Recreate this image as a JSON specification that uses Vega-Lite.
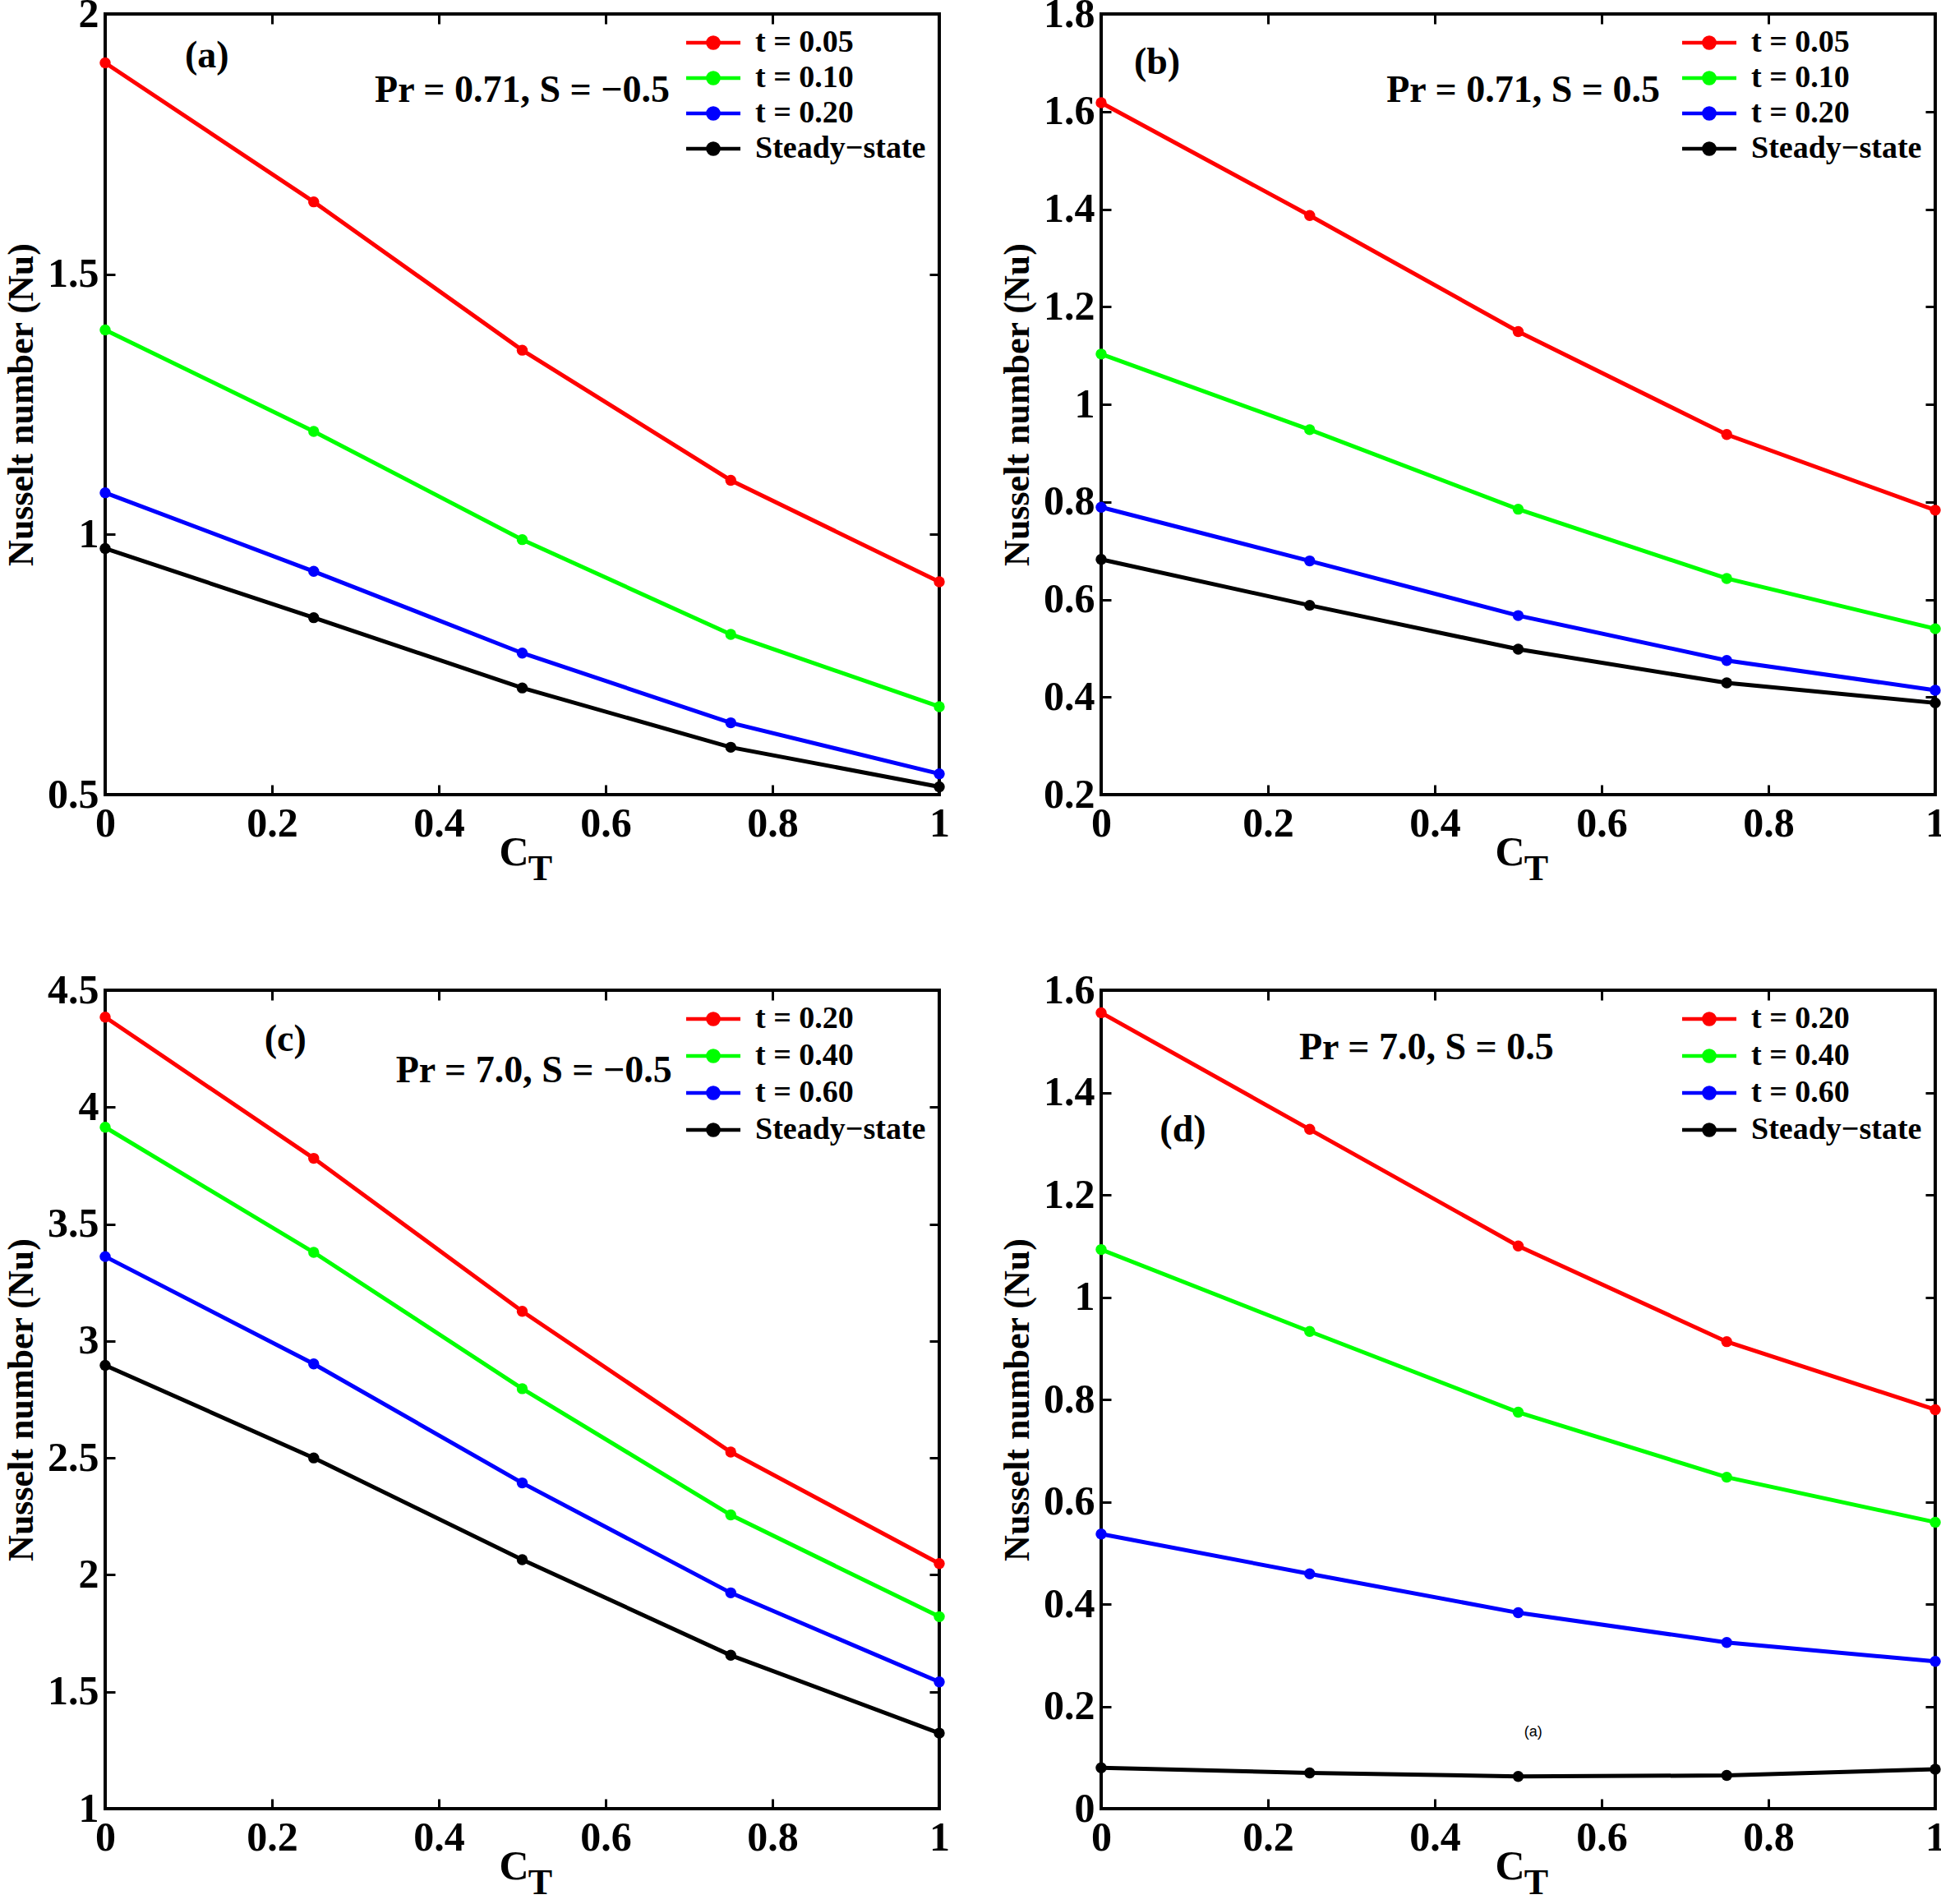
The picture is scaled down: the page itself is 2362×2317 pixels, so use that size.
{
  "$schema": "https://vega.github.io/schema/vega-lite/v6.json",
  "autosize": {"type": "pad"},
  "padding": {"left": 2, "top": -10, "right": 0, "bottom": 0},
  "background": "white",
  "bounds": "flush",
  "columns": 2,
  "spacing": {"row": 238, "column": 197},
  "resolve": {"scale": {"color": "independent", "x": "independent", "y": "independent"}, "legend": {"color": "independent"}},
  "datasets": {
    "series": [
      {"panel": "a", "series": "t = 0.05", "x": 0, "nu": 1.906},
      {"panel": "a", "series": "t = 0.05", "x": 0.25, "nu": 1.639},
      {"panel": "a", "series": "t = 0.05", "x": 0.5, "nu": 1.354},
      {"panel": "a", "series": "t = 0.05", "x": 0.75, "nu": 1.104},
      {"panel": "a", "series": "t = 0.05", "x": 1, "nu": 0.909},
      {"panel": "a", "series": "t = 0.10", "x": 0, "nu": 1.393},
      {"panel": "a", "series": "t = 0.10", "x": 0.25, "nu": 1.198},
      {"panel": "a", "series": "t = 0.10", "x": 0.5, "nu": 0.99},
      {"panel": "a", "series": "t = 0.10", "x": 0.75, "nu": 0.808},
      {"panel": "a", "series": "t = 0.10", "x": 1, "nu": 0.669},
      {"panel": "a", "series": "t = 0.20", "x": 0, "nu": 1.08},
      {"panel": "a", "series": "t = 0.20", "x": 0.25, "nu": 0.929},
      {"panel": "a", "series": "t = 0.20", "x": 0.5, "nu": 0.772},
      {"panel": "a", "series": "t = 0.20", "x": 0.75, "nu": 0.638},
      {"panel": "a", "series": "t = 0.20", "x": 1, "nu": 0.54},
      {"panel": "a", "series": "Steady−state", "x": 0, "nu": 0.973},
      {"panel": "a", "series": "Steady−state", "x": 0.25, "nu": 0.84},
      {"panel": "a", "series": "Steady−state", "x": 0.5, "nu": 0.705},
      {"panel": "a", "series": "Steady−state", "x": 0.75, "nu": 0.591},
      {"panel": "a", "series": "Steady−state", "x": 1, "nu": 0.515},
      {"panel": "b", "series": "t = 0.05", "x": 0, "nu": 1.618},
      {"panel": "b", "series": "t = 0.05", "x": 0.25, "nu": 1.387},
      {"panel": "b", "series": "t = 0.05", "x": 0.5, "nu": 1.149},
      {"panel": "b", "series": "t = 0.05", "x": 0.75, "nu": 0.938},
      {"panel": "b", "series": "t = 0.05", "x": 1, "nu": 0.783},
      {"panel": "b", "series": "t = 0.10", "x": 0, "nu": 1.103},
      {"panel": "b", "series": "t = 0.10", "x": 0.25, "nu": 0.948},
      {"panel": "b", "series": "t = 0.10", "x": 0.5, "nu": 0.785},
      {"panel": "b", "series": "t = 0.10", "x": 0.75, "nu": 0.643},
      {"panel": "b", "series": "t = 0.10", "x": 1, "nu": 0.54},
      {"panel": "b", "series": "t = 0.20", "x": 0, "nu": 0.789},
      {"panel": "b", "series": "t = 0.20", "x": 0.25, "nu": 0.679},
      {"panel": "b", "series": "t = 0.20", "x": 0.5, "nu": 0.567},
      {"panel": "b", "series": "t = 0.20", "x": 0.75, "nu": 0.475},
      {"panel": "b", "series": "t = 0.20", "x": 1, "nu": 0.414},
      {"panel": "b", "series": "Steady−state", "x": 0, "nu": 0.682},
      {"panel": "b", "series": "Steady−state", "x": 0.25, "nu": 0.588},
      {"panel": "b", "series": "Steady−state", "x": 0.5, "nu": 0.498},
      {"panel": "b", "series": "Steady−state", "x": 0.75, "nu": 0.429},
      {"panel": "b", "series": "Steady−state", "x": 1, "nu": 0.388},
      {"panel": "c", "series": "t = 0.20", "x": 0, "nu": 4.385},
      {"panel": "c", "series": "t = 0.20", "x": 0.25, "nu": 3.781},
      {"panel": "c", "series": "t = 0.20", "x": 0.5, "nu": 3.127},
      {"panel": "c", "series": "t = 0.20", "x": 0.75, "nu": 2.525},
      {"panel": "c", "series": "t = 0.20", "x": 1, "nu": 2.048},
      {"panel": "c", "series": "t = 0.40", "x": 0, "nu": 3.914},
      {"panel": "c", "series": "t = 0.40", "x": 0.25, "nu": 3.379},
      {"panel": "c", "series": "t = 0.40", "x": 0.5, "nu": 2.796},
      {"panel": "c", "series": "t = 0.40", "x": 0.75, "nu": 2.256},
      {"panel": "c", "series": "t = 0.40", "x": 1, "nu": 1.821},
      {"panel": "c", "series": "t = 0.60", "x": 0, "nu": 3.361},
      {"panel": "c", "series": "t = 0.60", "x": 0.25, "nu": 2.902},
      {"panel": "c", "series": "t = 0.60", "x": 0.5, "nu": 2.393},
      {"panel": "c", "series": "t = 0.60", "x": 0.75, "nu": 1.923},
      {"panel": "c", "series": "t = 0.60", "x": 1, "nu": 1.542},
      {"panel": "c", "series": "Steady−state", "x": 0, "nu": 2.896},
      {"panel": "c", "series": "Steady−state", "x": 0.25, "nu": 2.5},
      {"panel": "c", "series": "Steady−state", "x": 0.5, "nu": 2.065},
      {"panel": "c", "series": "Steady−state", "x": 0.75, "nu": 1.656},
      {"panel": "c", "series": "Steady−state", "x": 1, "nu": 1.323},
      {"panel": "d", "series": "t = 0.20", "x": 0, "nu": 1.556},
      {"panel": "d", "series": "t = 0.20", "x": 0.25, "nu": 1.328},
      {"panel": "d", "series": "t = 0.20", "x": 0.5, "nu": 1.1},
      {"panel": "d", "series": "t = 0.20", "x": 0.75, "nu": 0.913},
      {"panel": "d", "series": "t = 0.20", "x": 1, "nu": 0.78},
      {"panel": "d", "series": "t = 0.40", "x": 0, "nu": 1.093},
      {"panel": "d", "series": "t = 0.40", "x": 0.25, "nu": 0.933},
      {"panel": "d", "series": "t = 0.40", "x": 0.5, "nu": 0.775},
      {"panel": "d", "series": "t = 0.40", "x": 0.75, "nu": 0.648},
      {"panel": "d", "series": "t = 0.40", "x": 1, "nu": 0.56},
      {"panel": "d", "series": "t = 0.60", "x": 0, "nu": 0.537},
      {"panel": "d", "series": "t = 0.60", "x": 0.25, "nu": 0.459},
      {"panel": "d", "series": "t = 0.60", "x": 0.5, "nu": 0.383},
      {"panel": "d", "series": "t = 0.60", "x": 0.75, "nu": 0.325},
      {"panel": "d", "series": "t = 0.60", "x": 1, "nu": 0.288},
      {"panel": "d", "series": "Steady−state", "x": 0, "nu": 0.08},
      {"panel": "d", "series": "Steady−state", "x": 0.25, "nu": 0.07},
      {"panel": "d", "series": "Steady−state", "x": 0.5, "nu": 0.063},
      {"panel": "d", "series": "Steady−state", "x": 0.75, "nu": 0.065},
      {"panel": "d", "series": "Steady−state", "x": 1, "nu": 0.077}
    ],
    "notes": [
      {"panel": "a", "kind": "note", "label": "(a)", "x": 0.122, "y": 1.92},
      {"panel": "a", "kind": "note", "label": "Pr = 0.71, S = −0.5", "x": 0.5, "y": 1.853},
      {"panel": "a", "kind": "sub", "label": "T", "x": 0.5, "y": 0.5},
      {"panel": "b", "kind": "note", "label": "(b)", "x": 0.067, "y": 1.70},
      {"panel": "b", "kind": "note", "label": "Pr = 0.71, S = 0.5", "x": 0.506, "y": 1.643},
      {"panel": "b", "kind": "sub", "label": "T", "x": 0.5, "y": 0.2},
      {"panel": "c", "kind": "note", "label": "(c)", "x": 0.216, "y": 4.29},
      {"panel": "c", "kind": "note", "label": "Pr = 7.0, S = −0.5", "x": 0.514, "y": 4.155},
      {"panel": "c", "kind": "sub", "label": "T", "x": 0.5, "y": 1},
      {"panel": "d", "kind": "note", "label": "(d)", "x": 0.098, "y": 1.327},
      {"panel": "d", "kind": "note", "label": "Pr = 7.0, S = 0.5", "x": 0.39, "y": 1.488},
      {"panel": "d", "kind": "sub", "label": "T", "x": 0.5, "y": 0},
      {"panel": "d", "kind": "tiny", "label": "(a)", "x": 0.518, "y": 0.149}
    ]
  },
  "concat": [
    {
      "width": 1015, "height": 950,
      "resolve": {"axis": {"x": "independent", "y": "independent"}},
      "layer": [
        {
          "data": {"name": "series"},
          "transform": [{"filter": "datum.panel === 'a'"}],
          "mark": {"type": "point", "filled": true, "size": 180, "opacity": 1},
          "encoding": {
            "x": {"field": "x", "type": "quantitative", "scale": {"domain": [0, 1], "nice": false, "zero": false},
              "axis": {"orient": "bottom", "values": [0, 0.2, 0.4, 0.6, 0.8, 1], "format": "~g", "labelPadding": 22, "title": "C", "titleFontSize": 50, "titleX": 497, "titleY": 85, "titleBaseline": "alphabetic", "titleAlign": "center"}},
            "y": {"field": "nu", "type": "quantitative", "scale": {"domain": [0.5, 2], "nice": false, "zero": false},
              "axis": {"orient": "left", "values": [0.5, 1, 1.5, 2], "format": "~g", "labelPadding": 20, "title": "Nusselt number (Nu)", "titleFontSize": 44, "titleX": -124, "titleBaseline": "top"}},
            "color": {"field": "series", "type": "nominal",
              "scale": {"domain": ["t = 0.05", "t = 0.10", "t = 0.20", "Steady−state"], "range": ["#ff0000", "#00ff00", "#0000ff", "#000000"]},
              "legend": {"title": null, "orient": "top-right", "offset": 16, "padding": 0, "labelFont": "Liberation Serif", "labelFontWeight": "bold", "labelFontSize": 38, "labelColor": "black", "symbolType": "M-3,0H3M-0.6,0A0.6,0.6,0,1,1,0.6,0A0.6,0.6,0,1,1,-0.6,0", "symbolSize": 484, "symbolStrokeWidth": 4.5, "labelOffset": 32, "rowPadding": 5, "labelLimit": 600}}
          }
        },
        {
          "data": {"name": "series"},
          "transform": [{"filter": "datum.panel === 'a'"}],
          "mark": {"type": "line", "strokeWidth": 5},
          "encoding": {
            "x": {"field": "x", "type": "quantitative", "axis": {"orient": "top", "values": [0, 0.2, 0.4, 0.6, 0.8, 1], "labels": false, "title": null}},
            "y": {"field": "nu", "type": "quantitative", "axis": {"orient": "right", "values": [0.5, 1, 1.5, 2], "labels": false, "title": null}},
            "color": {"field": "series", "type": "nominal",
              "legend": {"title": null, "orient": "top-right", "offset": 16, "padding": 0, "labelFont": "Liberation Serif", "labelFontWeight": "bold", "labelFontSize": 38, "labelColor": "black", "symbolType": "M-3,0H3M-0.6,0A0.6,0.6,0,1,1,0.6,0A0.6,0.6,0,1,1,-0.6,0", "symbolSize": 484, "symbolStrokeWidth": 4.5, "labelOffset": 32, "rowPadding": 5, "labelLimit": 600}}
          }
        },
        {
          "data": {"name": "notes"},
          "transform": [{"filter": "datum.panel === 'a' && datum.kind === 'note'"}],
          "mark": {"type": "text", "fontSize": 46, "align": "center", "baseline": "middle"},
          "encoding": {
            "x": {"field": "x", "type": "quantitative", "axis": null},
            "y": {"field": "y", "type": "quantitative", "axis": null},
            "text": {"field": "label"}
          }
        },
        {
          "data": {"name": "notes"},
          "transform": [{"filter": "datum.panel === 'a' && datum.kind === 'sub'"}],
          "mark": {"type": "text", "fontSize": 44, "align": "center", "baseline": "alphabetic", "dx": 22, "dy": 104},
          "encoding": {
            "x": {"field": "x", "type": "quantitative", "axis": null},
            "y": {"field": "y", "type": "quantitative", "axis": null},
            "text": {"field": "label"}
          }
        }
      ]
    },
    {
      "width": 1015, "height": 950,
      "resolve": {"axis": {"x": "independent", "y": "independent"}},
      "layer": [
        {
          "data": {"name": "series"},
          "transform": [{"filter": "datum.panel === 'b'"}],
          "mark": {"type": "point", "filled": true, "size": 180, "opacity": 1},
          "encoding": {
            "x": {"field": "x", "type": "quantitative", "scale": {"domain": [0, 1], "nice": false, "zero": false},
              "axis": {"orient": "bottom", "values": [0, 0.2, 0.4, 0.6, 0.8, 1], "format": "~g", "labelPadding": 22, "title": "C", "titleFontSize": 50, "titleX": 497, "titleY": 85, "titleBaseline": "alphabetic", "titleAlign": "center"}},
            "y": {"field": "nu", "type": "quantitative", "scale": {"domain": [0.2, 1.8], "nice": false, "zero": false},
              "axis": {"orient": "left", "values": [0.2, 0.4, 0.6, 0.8, 1, 1.2, 1.4, 1.6, 1.8], "format": "~g", "labelPadding": 20, "title": "Nusselt number (Nu)", "titleFontSize": 44, "titleX": -124, "titleBaseline": "top"}},
            "color": {"field": "series", "type": "nominal",
              "scale": {"domain": ["t = 0.05", "t = 0.10", "t = 0.20", "Steady−state"], "range": ["#ff0000", "#00ff00", "#0000ff", "#000000"]},
              "legend": {"title": null, "orient": "top-right", "offset": 16, "padding": 0, "labelFont": "Liberation Serif", "labelFontWeight": "bold", "labelFontSize": 38, "labelColor": "black", "symbolType": "M-3,0H3M-0.6,0A0.6,0.6,0,1,1,0.6,0A0.6,0.6,0,1,1,-0.6,0", "symbolSize": 484, "symbolStrokeWidth": 4.5, "labelOffset": 32, "rowPadding": 5, "labelLimit": 600}}
          }
        },
        {
          "data": {"name": "series"},
          "transform": [{"filter": "datum.panel === 'b'"}],
          "mark": {"type": "line", "strokeWidth": 5},
          "encoding": {
            "x": {"field": "x", "type": "quantitative", "axis": {"orient": "top", "values": [0, 0.2, 0.4, 0.6, 0.8, 1], "labels": false, "title": null}},
            "y": {"field": "nu", "type": "quantitative", "axis": {"orient": "right", "values": [0.2, 0.4, 0.6, 0.8, 1, 1.2, 1.4, 1.6, 1.8], "labels": false, "title": null}},
            "color": {"field": "series", "type": "nominal",
              "legend": {"title": null, "orient": "top-right", "offset": 16, "padding": 0, "labelFont": "Liberation Serif", "labelFontWeight": "bold", "labelFontSize": 38, "labelColor": "black", "symbolType": "M-3,0H3M-0.6,0A0.6,0.6,0,1,1,0.6,0A0.6,0.6,0,1,1,-0.6,0", "symbolSize": 484, "symbolStrokeWidth": 4.5, "labelOffset": 32, "rowPadding": 5, "labelLimit": 600}}
          }
        },
        {
          "data": {"name": "notes"},
          "transform": [{"filter": "datum.panel === 'b' && datum.kind === 'note'"}],
          "mark": {"type": "text", "fontSize": 46, "align": "center", "baseline": "middle"},
          "encoding": {
            "x": {"field": "x", "type": "quantitative", "axis": null},
            "y": {"field": "y", "type": "quantitative", "axis": null},
            "text": {"field": "label"}
          }
        },
        {
          "data": {"name": "notes"},
          "transform": [{"filter": "datum.panel === 'b' && datum.kind === 'sub'"}],
          "mark": {"type": "text", "fontSize": 44, "align": "center", "baseline": "alphabetic", "dx": 22, "dy": 104},
          "encoding": {
            "x": {"field": "x", "type": "quantitative", "axis": null},
            "y": {"field": "y", "type": "quantitative", "axis": null},
            "text": {"field": "label"}
          }
        }
      ]
    },
    {
      "width": 1015, "height": 996,
      "resolve": {"axis": {"x": "independent", "y": "independent"}},
      "layer": [
        {
          "data": {"name": "series"},
          "transform": [{"filter": "datum.panel === 'c'"}],
          "mark": {"type": "point", "filled": true, "size": 180, "opacity": 1},
          "encoding": {
            "x": {"field": "x", "type": "quantitative", "scale": {"domain": [0, 1], "nice": false, "zero": false},
              "axis": {"orient": "bottom", "values": [0, 0.2, 0.4, 0.6, 0.8, 1], "format": "~g", "labelPadding": 22, "title": "C", "titleFontSize": 50, "titleX": 497, "titleY": 85, "titleBaseline": "alphabetic", "titleAlign": "center"}},
            "y": {"field": "nu", "type": "quantitative", "scale": {"domain": [1, 4.5], "nice": false, "zero": false},
              "axis": {"orient": "left", "values": [1, 1.5, 2, 2.5, 3, 3.5, 4, 4.5], "format": "~g", "labelPadding": 20, "title": "Nusselt number (Nu)", "titleFontSize": 44, "titleX": -124, "titleBaseline": "top"}},
            "color": {"field": "series", "type": "nominal",
              "scale": {"domain": ["t = 0.20", "t = 0.40", "t = 0.60", "Steady−state"], "range": ["#ff0000", "#00ff00", "#0000ff", "#000000"]},
              "legend": {"title": null, "orient": "top-right", "offset": 16, "padding": 0, "labelFont": "Liberation Serif", "labelFontWeight": "bold", "labelFontSize": 38, "labelColor": "black", "symbolType": "M-3,0H3M-0.6,0A0.6,0.6,0,1,1,0.6,0A0.6,0.6,0,1,1,-0.6,0", "symbolSize": 484, "symbolStrokeWidth": 4.5, "labelOffset": 32, "rowPadding": 7, "labelLimit": 600}}
          }
        },
        {
          "data": {"name": "series"},
          "transform": [{"filter": "datum.panel === 'c'"}],
          "mark": {"type": "line", "strokeWidth": 5},
          "encoding": {
            "x": {"field": "x", "type": "quantitative", "axis": {"orient": "top", "values": [0, 0.2, 0.4, 0.6, 0.8, 1], "labels": false, "title": null}},
            "y": {"field": "nu", "type": "quantitative", "axis": {"orient": "right", "values": [1, 1.5, 2, 2.5, 3, 3.5, 4, 4.5], "labels": false, "title": null}},
            "color": {"field": "series", "type": "nominal",
              "legend": {"title": null, "orient": "top-right", "offset": 16, "padding": 0, "labelFont": "Liberation Serif", "labelFontWeight": "bold", "labelFontSize": 38, "labelColor": "black", "symbolType": "M-3,0H3M-0.6,0A0.6,0.6,0,1,1,0.6,0A0.6,0.6,0,1,1,-0.6,0", "symbolSize": 484, "symbolStrokeWidth": 4.5, "labelOffset": 32, "rowPadding": 7, "labelLimit": 600}}
          }
        },
        {
          "data": {"name": "notes"},
          "transform": [{"filter": "datum.panel === 'c' && datum.kind === 'note'"}],
          "mark": {"type": "text", "fontSize": 46, "align": "center", "baseline": "middle"},
          "encoding": {
            "x": {"field": "x", "type": "quantitative", "axis": null},
            "y": {"field": "y", "type": "quantitative", "axis": null},
            "text": {"field": "label"}
          }
        },
        {
          "data": {"name": "notes"},
          "transform": [{"filter": "datum.panel === 'c' && datum.kind === 'sub'"}],
          "mark": {"type": "text", "fontSize": 44, "align": "center", "baseline": "alphabetic", "dx": 22, "dy": 104},
          "encoding": {
            "x": {"field": "x", "type": "quantitative", "axis": null},
            "y": {"field": "y", "type": "quantitative", "axis": null},
            "text": {"field": "label"}
          }
        }
      ]
    },
    {
      "width": 1015, "height": 996,
      "resolve": {"axis": {"x": "independent", "y": "independent"}},
      "layer": [
        {
          "data": {"name": "series"},
          "transform": [{"filter": "datum.panel === 'd'"}],
          "mark": {"type": "point", "filled": true, "size": 180, "opacity": 1},
          "encoding": {
            "x": {"field": "x", "type": "quantitative", "scale": {"domain": [0, 1], "nice": false, "zero": false},
              "axis": {"orient": "bottom", "values": [0, 0.2, 0.4, 0.6, 0.8, 1], "format": "~g", "labelPadding": 22, "title": "C", "titleFontSize": 50, "titleX": 497, "titleY": 85, "titleBaseline": "alphabetic", "titleAlign": "center"}},
            "y": {"field": "nu", "type": "quantitative", "scale": {"domain": [0, 1.6], "nice": false, "zero": false},
              "axis": {"orient": "left", "values": [0, 0.2, 0.4, 0.6, 0.8, 1, 1.2, 1.4, 1.6], "format": "~g", "labelPadding": 20, "title": "Nusselt number (Nu)", "titleFontSize": 44, "titleX": -124, "titleBaseline": "top"}},
            "color": {"field": "series", "type": "nominal",
              "scale": {"domain": ["t = 0.20", "t = 0.40", "t = 0.60", "Steady−state"], "range": ["#ff0000", "#00ff00", "#0000ff", "#000000"]},
              "legend": {"title": null, "orient": "top-right", "offset": 16, "padding": 0, "labelFont": "Liberation Serif", "labelFontWeight": "bold", "labelFontSize": 38, "labelColor": "black", "symbolType": "M-3,0H3M-0.6,0A0.6,0.6,0,1,1,0.6,0A0.6,0.6,0,1,1,-0.6,0", "symbolSize": 484, "symbolStrokeWidth": 4.5, "labelOffset": 32, "rowPadding": 7, "labelLimit": 600}}
          }
        },
        {
          "data": {"name": "series"},
          "transform": [{"filter": "datum.panel === 'd'"}],
          "mark": {"type": "line", "strokeWidth": 5},
          "encoding": {
            "x": {"field": "x", "type": "quantitative", "axis": {"orient": "top", "values": [0, 0.2, 0.4, 0.6, 0.8, 1], "labels": false, "title": null}},
            "y": {"field": "nu", "type": "quantitative", "axis": {"orient": "right", "values": [0, 0.2, 0.4, 0.6, 0.8, 1, 1.2, 1.4, 1.6], "labels": false, "title": null}},
            "color": {"field": "series", "type": "nominal",
              "legend": {"title": null, "orient": "top-right", "offset": 16, "padding": 0, "labelFont": "Liberation Serif", "labelFontWeight": "bold", "labelFontSize": 38, "labelColor": "black", "symbolType": "M-3,0H3M-0.6,0A0.6,0.6,0,1,1,0.6,0A0.6,0.6,0,1,1,-0.6,0", "symbolSize": 484, "symbolStrokeWidth": 4.5, "labelOffset": 32, "rowPadding": 7, "labelLimit": 600}}
          }
        },
        {
          "data": {"name": "notes"},
          "transform": [{"filter": "datum.panel === 'd' && datum.kind === 'note'"}],
          "mark": {"type": "text", "fontSize": 46, "align": "center", "baseline": "middle"},
          "encoding": {
            "x": {"field": "x", "type": "quantitative", "axis": null},
            "y": {"field": "y", "type": "quantitative", "axis": null},
            "text": {"field": "label"}
          }
        },
        {
          "data": {"name": "notes"},
          "transform": [{"filter": "datum.panel === 'd' && datum.kind === 'sub'"}],
          "mark": {"type": "text", "fontSize": 44, "align": "center", "baseline": "alphabetic", "dx": 22, "dy": 104},
          "encoding": {
            "x": {"field": "x", "type": "quantitative", "axis": null},
            "y": {"field": "y", "type": "quantitative", "axis": null},
            "text": {"field": "label"}
          }
        },
        {
          "data": {"name": "notes"},
          "transform": [{"filter": "datum.panel === 'd' && datum.kind === 'tiny'"}],
          "mark": {"type": "text", "font": "Liberation Sans", "fontWeight": "normal", "fontSize": 18, "align": "center", "baseline": "middle"},
          "encoding": {
            "x": {"field": "x", "type": "quantitative", "axis": null},
            "y": {"field": "y", "type": "quantitative", "axis": null},
            "text": {"field": "label"}
          }
        }
      ]
    }
  ],
  "config": {
    "view": {"stroke": "black", "strokeWidth": 4},
    "axis": {"domain": false, "grid": false, "ticks": true, "tickSize": -12, "tickWidth": 3, "tickColor": "black",
      "labelFont": "Liberation Serif", "labelFontWeight": "bold", "labelFontSize": 50, "labelColor": "black",
      "labelOverlap": false, "labelFlush": false, "labelBound": false,
      "titleFont": "Liberation Serif", "titleFontWeight": "bold", "titleColor": "black"},
    "text": {"font": "Liberation Serif", "fontWeight": "bold", "color": "black"}
  }
}
